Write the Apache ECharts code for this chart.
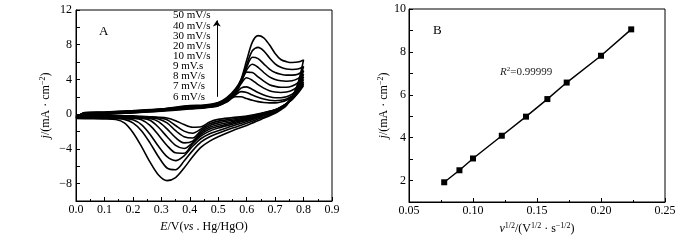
<!DOCTYPE html>
<html>
<head>
<meta charset="utf-8">
<script src="https://cdn.jsdelivr.net/npm/echarts@6/dist/echarts.min.js"></script>
<style>
  html, body { margin: 0; padding: 0; background: #fff; }
  #main { width: 700px; height: 240px; }
</style>
</head>
<body>
<div id="main"></div>
<script>
// potentials (V vs Hg/HgO) of the forward and reverse sweeps
var EF = [0, 0.03, 0.1, 0.2, 0.3, 0.4, 0.45, 0.5, 0.53, 0.56, 0.58, 0.6, 0.62, 0.64, 0.66, 0.68, 0.7, 0.72, 0.74, 0.76, 0.78, 0.8];
var ER = [0.78, 0.76, 0.74, 0.72, 0.7, 0.65, 0.6, 0.55, 0.5, 0.47, 0.44, 0.41, 0.38, 0.35, 0.32, 0.29, 0.26, 0.23, 0.2, 0.17, 0.14, 0.1, 0.05, 0];

// current density, forward sweep
var f6  = [-0.12, -0.1, 0.0, 0.15, 0.35, 0.6, 0.72, 0.95, 1.4, 2.0, 2.0, 1.8, 1.6, 1.45, 1.35, 1.3, 1.3, 1.4, 1.6, 2.0, 2.6, 3.3];
var f7  = [-0.17, -0.05, 0.03, 0.18, 0.38, 0.65, 0.76, 1.0, 1.45, 2.2, 2.6, 2.5, 2.2, 1.95, 1.75, 1.6, 1.55, 1.6, 1.75, 2.1, 2.7, 3.5];
var f8  = [-0.22, 0.0, 0.06, 0.21, 0.41, 0.7, 0.8, 1.05, 1.5, 2.3, 3.0, 3.15, 2.85, 2.5, 2.2, 2.0, 1.9, 1.9, 2.0, 2.3, 2.9, 3.7];
var f9  = [-0.27, 0.03, 0.09, 0.24, 0.44, 0.75, 0.84, 1.1, 1.6, 2.4, 3.5, 4.2, 3.9, 3.4, 3.0, 2.7, 2.55, 2.5, 2.55, 2.75, 3.2, 4.0];
var f10 = [-0.31, 0.06, 0.12, 0.27, 0.47, 0.8, 0.88, 1.15, 1.65, 2.5, 3.6, 4.85, 4.8, 4.3, 3.8, 3.4, 3.2, 3.1, 3.1, 3.25, 3.6, 4.3];
var f20 = [-0.35, 0.09, 0.15, 0.3, 0.5, 0.85, 0.92, 1.2, 1.7, 2.55, 3.7, 5.1, 5.75, 5.4, 4.8, 4.3, 4.0, 3.85, 3.8, 3.85, 4.1, 4.6];
var f30 = [-0.39, 0.12, 0.18, 0.33, 0.53, 0.9, 0.96, 1.25, 1.75, 2.65, 3.8, 5.4, 6.55, 6.4, 5.8, 5.2, 4.8, 4.6, 4.5, 4.5, 4.6, 5.0];
var f40 = [-0.44, 0.16, 0.22, 0.37, 0.57, 0.95, 1.0, 1.3, 1.8, 2.75, 3.9, 5.7, 7.3, 7.7, 7.3, 6.5, 5.8, 5.4, 5.2, 5.15, 5.2, 5.5];
var f50 = [-0.5, 0.2, 0.26, 0.41, 0.61, 1.0, 1.05, 1.35, 1.9, 2.9, 4.0, 6.2, 8.3, 9.05, 8.8, 8.0, 7.0, 6.3, 6.05, 5.95, 6.0, 6.25];

// current density, reverse sweep
var r6  = [2.4, 1.7, 1.2, 0.8, 0.5, 0.1, -0.2, -0.4, -0.6, -0.9, -1.45, -1.5, -1.2, -0.75, -0.45, -0.35, -0.3, -0.25, -0.2, -0.18, -0.16, -0.15, -0.13, -0.12];
var r7  = [2.5, 1.7, 1.2, 0.8, 0.5, 0.05, -0.3, -0.55, -0.8, -1.1, -1.7, -2.2, -1.95, -1.3, -0.65, -0.42, -0.35, -0.3, -0.26, -0.24, -0.22, -0.2, -0.18, -0.17];
var r8  = [2.6, 1.8, 1.2, 0.8, 0.45, 0, -0.4, -0.7, -1.0, -1.3, -1.9, -2.75, -2.6, -1.9, -1.0, -0.55, -0.42, -0.36, -0.32, -0.3, -0.28, -0.25, -0.23, -0.22];
var r9  = [2.7, 1.8, 1.2, 0.8, 0.45, -0.05, -0.5, -0.85, -1.2, -1.5, -2.1, -3.1, -3.3, -2.7, -1.7, -0.85, -0.5, -0.42, -0.38, -0.35, -0.33, -0.3, -0.28, -0.27];
var r10 = [2.9, 1.9, 1.2, 0.75, 0.4, -0.1, -0.6, -1.0, -1.4, -1.7, -2.3, -3.3, -3.95, -3.6, -2.6, -1.5, -0.7, -0.48, -0.43, -0.4, -0.37, -0.34, -0.32, -0.31];
var r20 = [3.0, 1.9, 1.2, 0.7, 0.35, -0.2, -0.7, -1.15, -1.6, -1.95, -2.5, -3.4, -4.5, -4.45, -3.6, -2.4, -1.3, -0.65, -0.48, -0.44, -0.41, -0.38, -0.36, -0.35];
var r30 = [3.2, 2.0, 1.2, 0.7, 0.3, -0.3, -0.85, -1.35, -1.9, -2.25, -2.8, -3.7, -4.8, -5.35, -4.9, -3.7, -2.3, -1.2, -0.65, -0.5, -0.46, -0.42, -0.4, -0.39];
var r40 = [3.4, 2.0, 1.1, 0.6, 0.2, -0.45, -1.05, -1.6, -2.2, -2.6, -3.2, -4.2, -5.4, -6.4, -6.2, -4.9, -3.3, -1.9, -1.0, -0.6, -0.52, -0.47, -0.45, -0.44];
var r50 = [3.5, 2.0, 1.0, 0.5, 0.1, -0.6, -1.3, -1.9, -2.6, -3.1, -3.8, -4.9, -6.2, -7.3, -7.65, -7.0, -5.5, -3.7, -2.1, -1.0, -0.62, -0.55, -0.52, -0.5];

var rateLabels = ['50 mV/s', '40 mV/s', '30 mV/s', '20 mV/s', '10 mV/s', '9 mV.s', '8 mV/s', '7 mV/s', '6 mV/s'];

// panel B: peak current vs square root of scan rate
var sqrtRate = [0.0775, 0.0894, 0.1, 0.1225, 0.1414, 0.1581, 0.1732, 0.2, 0.2236];
var peakJ = [1.92, 2.48, 3.03, 4.09, 4.98, 5.80, 6.57, 7.82, 9.05];

var FONT = '"Liberation Serif", "Times New Roman", serif';

var loops = [[f6, r6], [f7, r7], [f8, r8], [f9, r9], [f10, r10], [f20, r20], [f30, r30], [f40, r40], [f50, r50]];

var series = loops.map(function (l, k) {
    var pts = EF.map(function (e, i) { return [e, l[0][i]]; })
        .concat(ER.map(function (e, i) { return [e, l[1][i]]; }));
    var s = {
        type: 'line',
        xAxisIndex: 0,
        yAxisIndex: 0,
        data: pts,
        showSymbol: false,
        smooth: 0.3,
        lineStyle: { color: '#000', width: 1.6 },
        animation: false,
        silent: true
    };
    if (k === 0) {
        s.markLine = {
            silent: true,
            symbol: ['none', 'arrow'],
            symbolSize: 6,
            label: { show: false },
            lineStyle: { color: '#000', width: 1, type: 'solid' },
            data: [[{ coord: [0.495, 2.0] }, { coord: [0.495, 10.8] }]]
        };
    }
    return s;
});

series.push({
    type: 'line',
    xAxisIndex: 1,
    yAxisIndex: 1,
    data: sqrtRate.map(function (x, i) { return [x, peakJ[i]]; }),
    symbol: 'rect',
    symbolSize: 6,
    itemStyle: { color: '#000' },
    lineStyle: { color: '#000', width: 1.5 },
    animation: false
});

var axisCommon = {
    axisLine: { onZero: false, lineStyle: { color: '#000', width: 1 } },
    axisTick: { inside: true, length: 4, lineStyle: { color: '#000' } },
    minorTick: { show: true, splitNumber: 2, length: 2, lineStyle: { color: '#000' } },
    splitLine: { show: false },
    nameTextStyle: { color: '#000', fontFamily: FONT, fontSize: 12 }
};

function ax(extra) {
    return Object.assign({}, JSON.parse(JSON.stringify(axisCommon)), extra);
}

var richName = {
    i: { fontFamily: FONT, fontSize: 12, fontStyle: 'italic', color: '#000', lineHeight: 14 },
    n: { fontFamily: FONT, fontSize: 12, color: '#000', lineHeight: 14 },
    s: { fontFamily: FONT, fontSize: 8, color: '#000', verticalAlign: 'top', lineHeight: 8 }
};

var legendTexts = rateLabels.map(function (t, i) {
    return {
        type: 'text',
        left: 173,
        top: 10 + i * 10.15,
        style: { text: t, font: '11px ' + FONT, fill: '#000' }
    };
});

var option = {
    backgroundColor: '#fff',
    animation: false,
    grid: [
        { left: 76, right: 368, top: 10, bottom: 39, show: true, borderColor: '#000', borderWidth: 1 },
        { left: 409, right: 35, top: 9, bottom: 38, show: true, borderColor: '#000', borderWidth: 1 }
    ],
    xAxis: [
        ax({
            type: 'value', gridIndex: 0, min: 0, max: 0.9, interval: 0.1,
            name: '{i|E}{n|/V(}{i|vs}{n| . Hg/HgO)}',
            nameLocation: 'middle', nameGap: 17,
            nameTextStyle: { rich: richName },
            axisLabel: {
                color: '#000', fontFamily: FONT, fontSize: 12, margin: 3,
                formatter: function (v) { return v.toFixed(1); }
            }
        }),
        ax({
            type: 'value', gridIndex: 1, min: 0.05, max: 0.25, interval: 0.05,
            name: '{i|v}{s|1/2}{n|/(V}{s|1/2}{n| · s}{s|\u22121/2}{n|)}',
            nameLocation: 'middle', nameGap: 17,
            nameTextStyle: { rich: richName },
            axisLabel: {
                color: '#000', fontFamily: FONT, fontSize: 12, margin: 3,
                formatter: function (v) { return v.toFixed(2); }
            }
        })
    ],
    yAxis: [
        ax({
            type: 'value', gridIndex: 0, min: -10, max: 12, interval: 2,
            name: '{i|j}{n|/(mA · cm}{s|\u22122}{n|)}',
            nameLocation: 'middle', nameGap: 23,
            nameTextStyle: { rich: richName },
            minorTick: { show: false },
            axisLabel: {
                color: '#000', fontFamily: FONT, fontSize: 12, margin: 4,
                formatter: function (v) {
                    if (v % 4 !== 0) return '';
                    return v < 0 ? '\u2212' + Math.abs(v) : String(v);
                }
            }
        }),
        ax({
            type: 'value', gridIndex: 1, min: 1, max: 10, interval: 1,
            name: '{i|j}{n|/(mA · cm}{s|\u22122}{n|)}',
            nameLocation: 'middle', nameGap: 18,
            nameTextStyle: { rich: richName },
            minorTick: { show: false },
            axisLabel: {
                color: '#000', fontFamily: FONT, fontSize: 12, margin: 3,
                formatter: function (v) { return v % 2 === 0 ? String(v) : ''; }
            }
        })
    ],
    graphic: legendTexts.concat([
        { type: 'text', left: 99, top: 25, style: { text: 'A', font: '13px ' + FONT, fill: '#000' } },
        { type: 'text', left: 433, top: 24, style: { text: 'B', font: '13px ' + FONT, fill: '#000' } },
        {
            type: 'text', left: 500, top: 66,
            style: {
                text: '{i|R}{s|2}{n|=0.99999}',
                rich: {
                    i: { fontFamily: FONT, fontSize: 11, fontStyle: 'italic', fill: '#222', lineHeight: 13 },
                    n: { fontFamily: FONT, fontSize: 11, fill: '#222', lineHeight: 13 },
                    s: { fontFamily: FONT, fontSize: 7, fill: '#222', verticalAlign: 'top', lineHeight: 7 }
                }
            }
        }
    ]),
    series: series
};

var chart = echarts.init(document.getElementById('main'));
chart.setOption(option);
window.onresize = chart.resize;
</script>
</body>
</html>
